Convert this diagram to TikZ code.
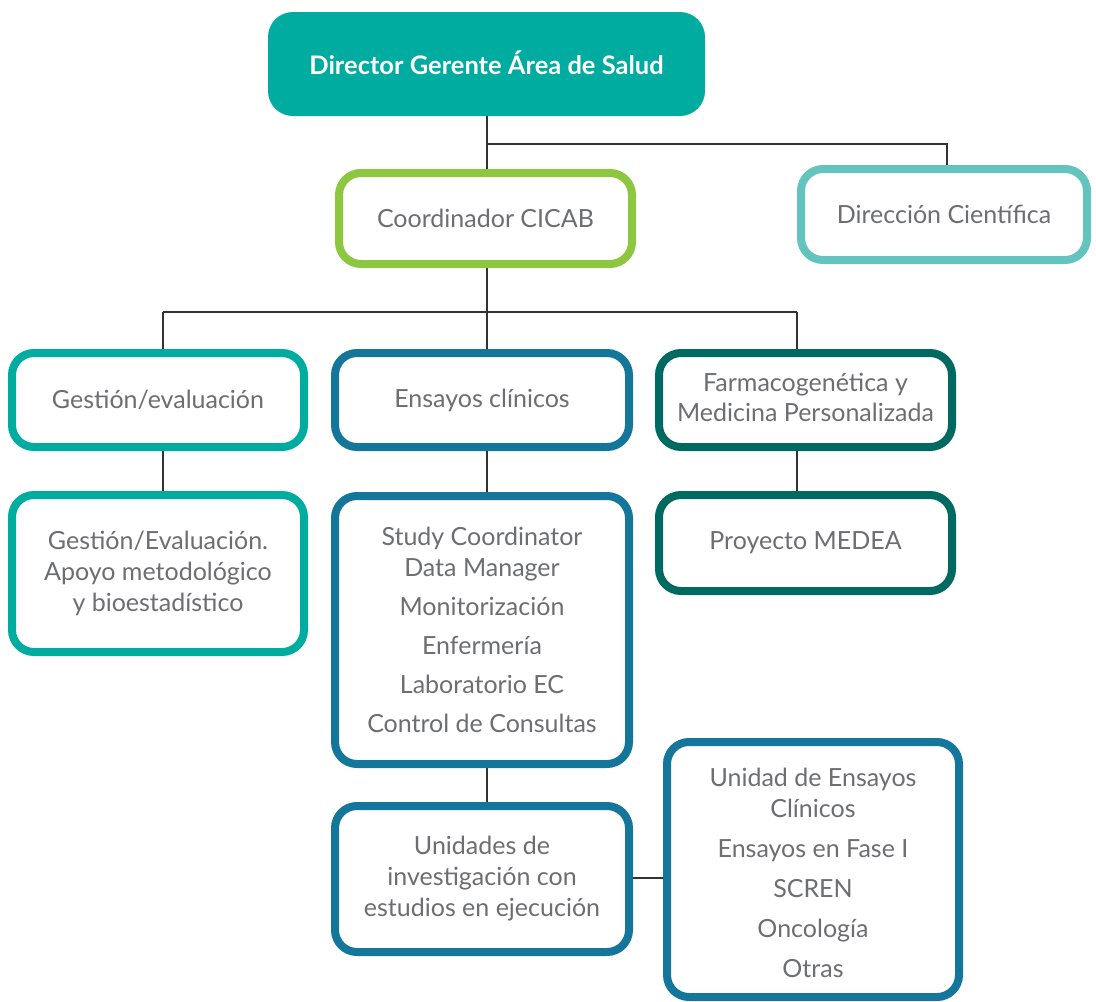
\documentclass[tikz,border=0pt]{standalone}
\usepackage{fontspec}
\setmainfont{Lato}
\usetikzlibrary{backgrounds}
\definecolor{cTeal}{RGB}{0,171,160}
\definecolor{cGreen}{RGB}{141,198,63}
\definecolor{cLight}{RGB}{98,196,188}
\definecolor{cBlue}{RGB}{20,118,155}
\definecolor{cDark}{RGB}{0,105,96}
\definecolor{cText}{RGB}{109,110,113}
\definecolor{cLine}{RGB}{50,50,50}
\tikzset{
  orgbox/.style={draw=#1, line width=8pt, rounded corners=22pt, fill=white,
    inner sep=0pt, align=center, text=cText,
    font=\fontsize{25}{31}\selectfont},
  topbox/.style={fill=cTeal, rounded corners=25pt, inner sep=0pt,
    text=white, font=\fontsize{25.5}{31}\selectfont\bfseries},
  link/.style={draw=cLine, line width=1.4pt}
}
\begin{document}
\begin{tikzpicture}[x=1pt,y=-1pt]
\useasboundingbox (0,0) rectangle (1096,1002);
\node[topbox, minimum width=437pt, minimum height=104pt] (top) at (486.5,64) {\raisebox{3pt}{Director Gerente Área de Salud}};
\node[orgbox=cGreen, minimum width=293pt, minimum height=91pt] (coord) at (485.5,218.5) {Coordinador CICAB};
\node[orgbox=cLight, minimum width=286pt, minimum height=91pt] (dir) at (944,214.5) {Dirección Científica};
\node[orgbox=cTeal, minimum width=292pt, minimum height=94pt] (gest) at (158,400) {Gestión/evaluación};
\node[orgbox=cBlue, minimum width=294pt, minimum height=94pt] (ens) at (482,400) {Ensayos clínicos};
\node[orgbox=cDark, minimum width=293pt, minimum height=94pt] (farm) at (805.5,400) {Farmacogenética y\\[-1pt] Medicina Personalizada\rule[-6pt]{0pt}{6pt}};
\node[orgbox=cTeal, minimum width=292pt, minimum height=157pt] (gestE) at (158,573.5) {Gestión/Evaluación.\\ Apoyo metodológico\\ y bioestadístico};
\node[orgbox=cBlue, minimum width=294pt, minimum height=268pt] (study) at (482,630) {Study Coordinator\\ Data Manager\\[8pt] Monitorización\\[8pt] Enfermería\\[8pt] Laboratorio EC\\[8pt] Control de Consultas};
\node[orgbox=cDark, minimum width=293pt, minimum height=96pt] (medea) at (805.5,543) {Proyecto MEDEA};
\node[orgbox=cBlue, minimum width=294pt, minimum height=146pt] (unid) at (482,879) {Unidades de\\ investigación con\\ estudios en ejecución};
\node[orgbox=cBlue, minimum width=292pt, minimum height=255pt] (ruce) at (813,869.5) {\rule{0pt}{25pt}Unidad de Ensayos\\[0pt] Clínicos\\[9pt] Ensayos en Fase I\\[9pt] SCREN\\[9pt] Oncología\\[9pt] Otras};
\coordinate (tA) at (487,144);
\coordinate (tD) at (947,144);
\coordinate (tB) at (487,312);
\coordinate (tL) at (163,312);
\coordinate (tR) at (797,312);
\begin{pgfonlayer}{background}
\draw[link] (top.south -| tA) -- (coord.north -| tA);
\draw[link] (tA) -- (tD) -- (dir.north -| tD);
\draw[link] (coord.south -| tB) -- (tB);
\draw[link] (tL) -- (tR);
\draw[link] (tL) -- (gest.north -| tL);
\draw[link] (tB) -- (ens.north -| tB);
\draw[link] (tR) -- (farm.north -| tR);
\draw[link] (gest.south -| tL) -- (gestE.north -| tL);
\draw[link] (ens.south -| tB) -- (study.north -| tB);
\draw[link] (farm.south -| tR) -- (medea.north -| tR);
\draw[link] (study.south -| tB) -- (unid.north -| tB);
\draw[link] (unid.east |- 0,878) -- (ruce.west |- 0,878);
\end{pgfonlayer}
\end{tikzpicture}
\end{document}
